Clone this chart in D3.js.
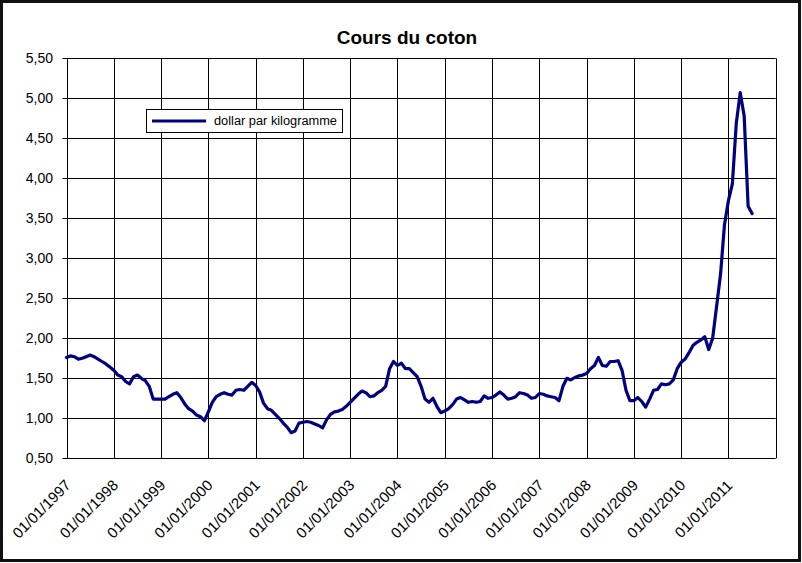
<!DOCTYPE html>
<html>
<head>
<meta charset="utf-8">
<script src="https://cdn.jsdelivr.net/npm/d3@7"></script>
<style>
  html, body { margin: 0; padding: 0; background: #fff; }
  svg { display: block; font-family: Arial, "Liberation Sans", sans-serif; }
</style>
</head>
<body>
<svg id="chart" width="802" height="563"></svg>
<script>
// ---- data ----
const title = "Cours du coton";
const seriesName = "dollar par kilogramme";
const startYear = 1997;   // first monthly value = January 1997
const values = [
  // 1997
  1.76,1.78,1.77,1.74,1.75,1.77,1.79,1.77,1.74,1.71,1.68,1.64,
  // 1998
  1.60,1.54,1.52,1.46,1.43,1.52,1.54,1.50,1.47,1.40,1.24,1.24,
  // 1999
  1.24,1.24,1.27,1.30,1.32,1.26,1.18,1.12,1.09,1.04,1.02,0.97,
  // 2000
  1.08,1.20,1.27,1.30,1.32,1.30,1.29,1.35,1.36,1.35,1.40,1.45,
  // 2001
  1.41,1.33,1.19,1.12,1.10,1.05,1.00,0.94,0.89,0.82,0.84,0.94,
  // 2002
  0.95,0.96,0.95,0.93,0.91,0.88,0.98,1.05,1.08,1.09,1.11,1.15,
  // 2003
  1.20,1.25,1.30,1.34,1.32,1.27,1.28,1.32,1.35,1.40,1.62,1.71,
  // 2004
  1.66,1.69,1.62,1.62,1.57,1.52,1.40,1.24,1.20,1.25,1.15,1.07,
  // 2005
  1.09,1.12,1.17,1.24,1.26,1.23,1.20,1.21,1.20,1.21,1.28,1.25,
  // 2006
  1.26,1.29,1.33,1.29,1.24,1.25,1.27,1.32,1.31,1.29,1.25,1.26,
  // 2007
  1.31,1.30,1.28,1.27,1.26,1.22,1.40,1.50,1.48,1.51,1.53,1.54,
  // 2008
  1.56,1.62,1.66,1.76,1.66,1.65,1.71,1.71,1.72,1.60,1.35,1.22,
  // 2009
  1.22,1.26,1.21,1.14,1.24,1.35,1.36,1.43,1.42,1.43,1.48,1.62,
  // 2010
  1.70,1.74,1.82,1.91,1.95,1.98,2.02,1.86,2.00,2.40,2.80,3.42,
  // 2011
  3.72,3.93,4.69,5.07,4.78,3.65,3.56
];
const xTickLabels = ["01/01/1997","01/01/1998","01/01/1999","01/01/2000","01/01/2001",
  "01/01/2002","01/01/2003","01/01/2004","01/01/2005","01/01/2006","01/01/2007",
  "01/01/2008","01/01/2009","01/01/2010","01/01/2011"];
const yTicks = [0.5,1.0,1.5,2.0,2.5,3.0,3.5,4.0,4.5,5.0,5.5];
const totalMonths = 180; // axis spans 1997 .. end of 2011

// ---- layout ----
const svg = d3.select("#chart");
const L = 66.5, R = 775.7, T = 58.3, B = 458.3;
const x = d3.scaleLinear().domain([0, totalMonths]).range([L, R]);
const y = d3.scaleLinear().domain([0.5, 5.5]).range([B, T]);
const fmt = v => d3.format(".2f")(v).replace(".", ",");

// outer frame
svg.append("rect").attr("x", 1.5).attr("y", 1.5).attr("width", 798).attr("height", 559)
  .attr("fill", "#fff").attr("stroke", "#111").attr("stroke-width", 3);

// title
svg.append("text").attr("x", 407).attr("y", 44).attr("text-anchor", "middle")
  .attr("font-size", 19).attr("font-weight", "bold").attr("fill", "#000").text(title);

// horizontal gridlines
svg.append("g").selectAll("line").data(yTicks).join("line")
  .attr("x1", L - 4).attr("x2", R)
  .attr("y1", d => Math.round(y(d)) + 0.5).attr("y2", d => Math.round(y(d)) + 0.5)
  .attr("stroke", "#000").attr("stroke-width", 1);

// vertical gridlines (each year) + right edge
const yearIdx = d3.range(0, totalMonths + 1, 12);
svg.append("g").selectAll("line").data(yearIdx).join("line")
  .attr("x1", d => Math.round(x(d)) + 0.5).attr("x2", d => Math.round(x(d)) + 0.5)
  .attr("y1", T).attr("y2", B)
  .attr("stroke", "#000").attr("stroke-width", 1);

// y labels
svg.append("g").selectAll("text").data(yTicks).join("text")
  .attr("x", 53).attr("y", d => y(d)).attr("dy", "0.36em")
  .attr("text-anchor", "end").attr("font-size", 14).attr("fill", "#000")
  .text(fmt);

// x labels rotated
svg.append("g").selectAll("text").data(xTickLabels).join("text")
  .attr("transform", (d, i) => `translate(${x(i * 12) - 25},${509}) rotate(-45)`)
  .attr("text-anchor", "middle").attr("dy", "0.35em")
  .attr("font-size", 15).attr("fill", "#000")
  .text(d => d);

// series line
const line = d3.line().x((d, i) => x(i)).y(d => y(d));
svg.append("path").datum(values).attr("d", line)
  .attr("fill", "none").attr("stroke", "#000080").attr("stroke-width", 3.2)
  .attr("stroke-linejoin", "round").attr("stroke-linecap", "round");

// legend
const lg = svg.append("g");
lg.append("rect").attr("x", 146.5).attr("y", 109.5).attr("width", 196).attr("height", 23)
  .attr("fill", "#fff").attr("stroke", "#000").attr("stroke-width", 1);
lg.append("line").attr("x1", 152).attr("x2", 206).attr("y1", 121).attr("y2", 121)
  .attr("stroke", "#000080").attr("stroke-width", 3);
lg.append("text").attr("x", 214).attr("y", 125).attr("font-size", 12)
  .attr("textLength", 123).attr("lengthAdjust", "spacingAndGlyphs").attr("fill", "#000")
  .text(seriesName);
</script>
</body>
</html>
